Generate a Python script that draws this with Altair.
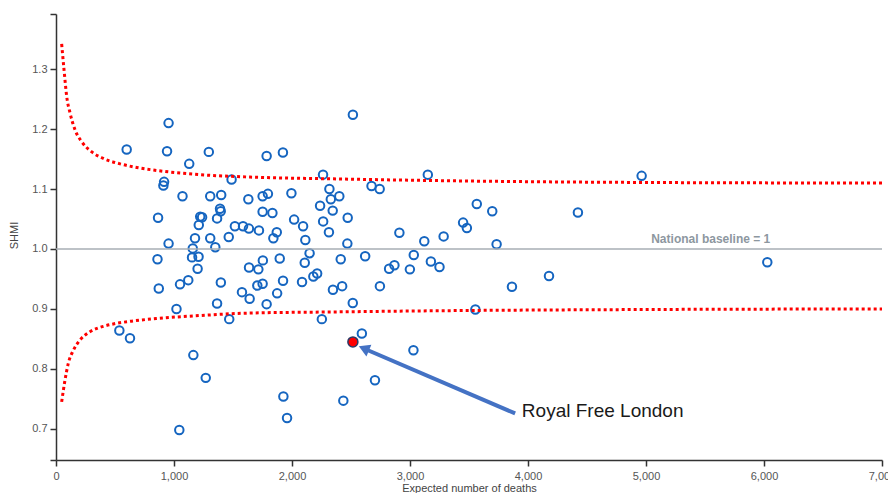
import altair as alt
import pandas as pd

# ---- data ----
expected = [599, 954, 941, 916, 910, 1129, 1295, 1072, 865, 954,
            1488, 1307, 1400, 1222, 1238, 1210, 1390, 1396, 1365, 1178,
            1307, 1159, 1350, 1464, 1516, 1585, 1630, 1635, 1720, 1751,
            1751, 1796, 1785, 1834, 1923, 1871, 1842, 1995, 2018, 2094,
            2113, 2149, 2238, 2263, 2264, 2317, 2329, 2345, 2313, 2401,
            2472, 2469, 2516, 2674, 2743, 2910, 3121, 3151, 3285, 860,
            1153, 1208, 1200, 871, 1051, 1121, 1397, 1365, 1021, 1468,
            1576, 1641, 1636, 1715, 1753, 1706, 1751, 1785, 1896, 1924,
            1874, 2085, 2108, 2181, 2213, 2253, 2347, 2425, 2413, 2515,
            2620, 2592, 2823, 2868, 2745, 2703, 2999, 3032, 3029, 3177,
            3250, 2435, 1927, 1958, 1269, 1164, 1045, 537, 627, 3566,
            3697, 3450, 3482, 3734, 4178, 3864, 3554, 4963, 4423, 6028]
shmi = [1.166, 1.210, 1.163, 1.112, 1.106, 1.142, 1.162, 1.088, 1.052, 1.009,
        1.116, 1.088, 1.090, 1.054, 1.053, 1.040, 1.067, 1.063, 1.051, 1.018,
        1.018, 1.001, 1.003, 1.020, 1.038, 1.038, 1.083, 1.034, 1.031, 1.062,
        1.088, 1.092, 1.155, 1.060, 1.161, 1.028, 1.018, 1.093, 1.049, 1.038,
        1.015, 0.993, 1.072, 1.124, 1.046, 1.100, 1.083, 1.064, 1.028, 1.088,
        1.052, 1.009, 1.224, 1.105, 1.100, 1.027, 1.013, 1.124, 1.021, 0.983,
        0.986, 0.987, 0.967, 0.934, 0.941, 0.948, 0.944, 0.909, 0.900, 0.883,
        0.928, 0.917, 0.969, 0.966, 0.981, 0.939, 0.942, 0.908, 0.984, 0.947,
        0.926, 0.945, 0.977, 0.954, 0.959, 0.883, 0.932, 0.938, 0.983, 0.910,
        0.988, 0.859, 0.967, 0.973, 0.938, 0.781, 0.966, 0.990, 0.831, 0.979,
        0.970, 0.747, 0.754, 0.718, 0.785, 0.823, 0.698, 0.864, 0.851, 1.075,
        1.063, 1.044, 1.035, 1.008, 0.955, 0.937, 0.899, 1.122, 1.061, 0.978]

highlight_name = ["Royal Free London"]
highlight_x = [2516]
highlight_y = [0.845]

upper_x = [48, 68, 91, 119, 161, 218, 303, 401, 543, 684, 853, 1221, 1645, 2351, 3255, 4951, 7000]
upper_y = [1.342, 1.299, 1.254, 1.227, 1.199, 1.179, 1.162, 1.151, 1.142, 1.136, 1.131,
           1.124, 1.120, 1.117, 1.114, 1.111, 1.110]
lower_x = [48, 76, 104, 147, 203, 288, 401, 514, 655, 853, 1221, 1617, 2351, 3255, 4951, 7000]
lower_y = [0.745, 0.781, 0.809, 0.831, 0.848, 0.862, 0.871, 0.876, 0.880, 0.884, 0.889,
           0.893, 0.895, 0.897, 0.899, 0.900]

baseline_value = [1.0]
baseline_span = [0, 7000]
baseline_label = ["National baseline = 1"]
baseline_label_x = [6053]

arrow_from_x = [3891]
arrow_from_y = [0.7257]
arrow_to_x = [2609]
arrow_to_y = [0.834]
label_x = [3948]
label_y = [0.7296]

x_ticks = [0, 1000, 2000, 3000, 4000, 5000, 6000, 7000]
y_ticks = [0.648, 0.7, 0.8, 0.9, 1.0, 1.1, 1.2, 1.3, 1.392]
x_domain = [0, 7000]
y_domain = [0.648, 1.392]

# ---- tables ----
pts = pd.DataFrame({"x": expected, "y": shmi})
hi = pd.DataFrame({"x": highlight_x, "y": highlight_y, "name": highlight_name})
up = pd.DataFrame({"x": upper_x, "y": upper_y})
lo = pd.DataFrame({"x": lower_x, "y": lower_y})
base = pd.DataFrame({"x": [baseline_span[0]], "x2": [baseline_span[1]], "y": baseline_value})
base_lab = pd.DataFrame({"x": baseline_label_x, "y": baseline_value, "t": baseline_label})
arrow = pd.DataFrame({"x": arrow_from_x, "y": arrow_from_y, "x2": arrow_to_x, "y2": arrow_to_y})
head = pd.DataFrame({"x": arrow_to_x, "y": arrow_to_y})
lab = pd.DataFrame({"x": label_x, "y": label_y, "t": highlight_name})

xs = alt.Scale(domain=x_domain, nice=False, zero=False)
ys = alt.Scale(domain=y_domain, nice=False, zero=False)

X = alt.X("x:Q", scale=xs, title="Expected number of deaths", axis=alt.Axis(
    values=x_ticks, title="Expected number of deaths",
    labelExpr="format(datum.value, ',')",
    labelFlush=False, labelOverlap=False, tickSize=6, labelPadding=4,
    titleY=28, titleBaseline="middle"))
Y = alt.Y("y:Q", scale=ys, title="SHMI", axis=alt.Axis(
    values=y_ticks, title="SHMI",
    labelExpr="datum.value < 0.65 || datum.value > 1.35 ? '' : format(datum.value, '.1f')",
    labelOverlap=False, tickSize=6, labelPadding=3,
    titleX=-42, titleY=221, titleAngle=270, titleAlign="center", titleBaseline="middle"))
Xs = alt.X("x:Q", scale=xs, title="Expected number of deaths")
Ys = alt.Y("y:Q", scale=ys, title="SHMI")

points = alt.Chart(pts).mark_point(
    shape="circle", filled=False, size=72, strokeWidth=2, color="#1565c0", opacity=1
).encode(x=X, y=Y)

baseline = alt.Chart(base).mark_rule(color="#a7aeb5", strokeWidth=1.5).encode(
    x=Xs, x2="x2:Q", y=Ys)

baseline_text = alt.Chart(base_lab).mark_text(
    align="right", baseline="bottom", dy=-3, font="Arial", fontSize=12,
    fontWeight="bold", color="#8d979f"
).encode(x=Xs, y=Ys, text="t:N")

upper = alt.Chart(up).mark_line(
    color="#ff0000", strokeWidth=3, strokeDash=[3, 3], interpolate="monotone"
).encode(x=Xs, y=Ys)
lower = alt.Chart(lo).mark_line(
    color="#ff0000", strokeWidth=3, strokeDash=[3, 3], interpolate="monotone"
).encode(x=Xs, y=Ys)

highlight = alt.Chart(hi).mark_point(
    shape="circle", filled=True, size=100, fill="#ff0000", stroke="#2b3a67",
    strokeWidth=1.5, opacity=1, fillOpacity=1
).encode(x=Xs, y=Ys)

arrow_line = alt.Chart(arrow).mark_rule(color="#4472c4", strokeWidth=4).encode(
    x=Xs, y=Ys, x2="x2:Q", y2="y2:Q")
arrow_head = alt.Chart(head).mark_point(
    shape="triangle-up", filled=True, size=160, color="#4472c4", opacity=1, angle=293
).encode(x=Xs, y=Ys)

label = alt.Chart(lab).mark_text(
    align="left", baseline="middle", font="Arial", fontSize=19, color="#1a1a1a"
).encode(x=Xs, y=Ys, text="t:N")

chart = alt.layer(
    points, baseline, baseline_text, upper, lower, arrow_line, arrow_head, highlight, label
).properties(
    width=826, height=446,
    autosize=alt.AutoSizeParams(type="none"),
    padding={"left": 48, "top": 6, "right": 6, "bottom": 34},
).configure_view(stroke=None).configure_axis(
    grid=False, labelFont="Arial", labelFontSize=11, labelColor="#555555",
    titleFont="Arial", titleFontSize=11, titleFontWeight="normal", titleColor="#444444",
    domainColor="#333333", tickColor="#333333", domainWidth=1.5, tickWidth=1.5,
)

chart.save("out.html", embed_options={"renderer": "svg", "actions": False})
